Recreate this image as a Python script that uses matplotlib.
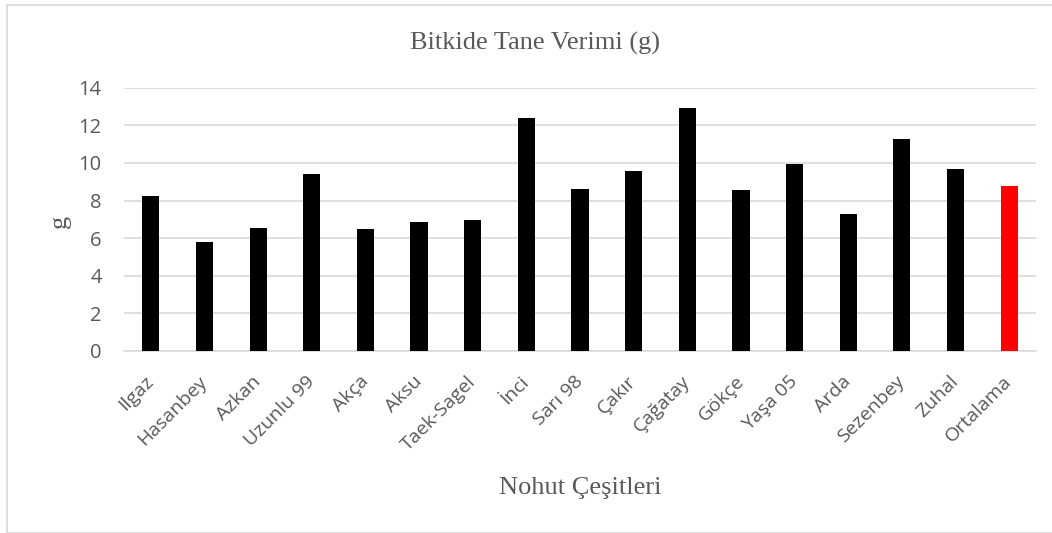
import matplotlib.pyplot as plt
from matplotlib.lines import Line2D

# Bitkide tane verimi (g) - nohut cesitleri
cesitler = ["Ilgaz", "Hasanbey", "Azkan", "Uzunlu 99", "Akça", "Aksu", "Taek-Sagel",
            "İnci", "Sarı 98", "Çakır", "Çağatay", "Gökçe", "Yaşa 05", "Arda",
            "Sezenbey", "Zuhal", "Ortalama"]
verim = [8.24, 5.79, 6.54, 9.43, 6.50, 6.84, 6.95, 12.39, 8.59, 9.57,
         12.90, 8.54, 9.94, 7.27, 11.27, 9.68, 8.77]
renkler = ["black"] * 16 + ["#ff0000"]

W, H = 1052, 533
fig = plt.figure(figsize=(W / 100, H / 100), dpi=100)
ax = fig.add_axes([124 / W, 1 - 351 / H, (1036 - 124) / W, (351 - 87.7) / H])

x = list(range(len(cesitler)))
ax.bar(x, verim, width=0.32, color=renkler, zorder=3)

ax.set_xlim(-0.5, len(cesitler) - 0.5)
ax.set_ylim(0, 14)
ax.set_yticks(range(0, 15, 2))
ax.set_xticks(x)
ax.set_xticklabels(cesitler, rotation=45, ha="right", va="center",
                   rotation_mode="anchor", family="Open Sans", fontsize=14,
                   color="#595959")
for lab in ax.get_yticklabels():
    lab.set_family("Open Sans")
    lab.set_fontsize(14.5)
    lab.set_color("#595959")
ax.tick_params(axis="both", length=0)
ax.tick_params(axis="y", pad=16)
ax.tick_params(axis="x", pad=20)

ax.grid(axis="y", color="#d9d9d9", linewidth=1.2, zorder=0)
for s in ["top", "right", "left"]:
    ax.spines[s].set_visible(False)
ax.spines["bottom"].set_color("#d9d9d9")
ax.spines["bottom"].set_linewidth(1.2)

serif = "Liberation Serif"
fig.text(535 / W, 1 - 43 / H, "Bitkide Tane Verimi (g)", ha="center", va="center",
         family=serif, fontsize=19, color="#595959")
fig.text(580 / W, 1 - 488 / H, "Nohut Çeşitleri", ha="center", va="center",
         family=serif, fontsize=19, color="#595959")
fig.text(60 / W, 1 - 221 / H, "g", ha="center", va="center", rotation=90,
         family=serif, fontsize=19, color="#595959")

# cerceve
kx, ky = 6.5 / W, 1 - 4.5 / H
for xs, ys in [([kx, kx], [0, ky]), ([kx, 1], [ky, ky]), ([kx, 1], [0.5 / H, 0.5 / H])]:
    fig.add_artist(Line2D(xs, ys, transform=fig.transFigure, color="#d9d9d9", linewidth=1.2))

fig.savefig("out.png", dpi=100, facecolor="white")
